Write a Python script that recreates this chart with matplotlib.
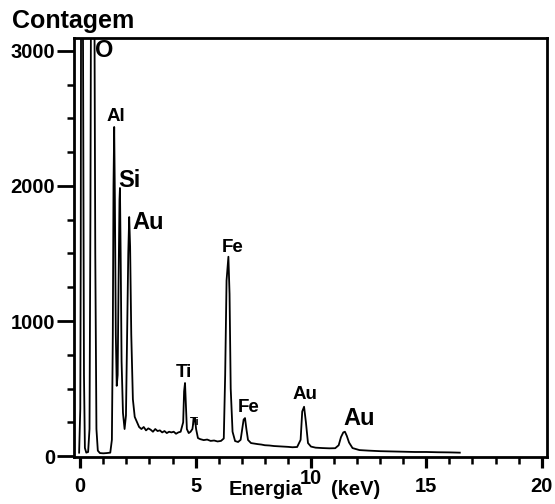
import matplotlib
matplotlib.use("Agg")
import matplotlib.pyplot as plt
from matplotlib.ticker import MultipleLocator

plt.rcParams["font.family"] = ["Liberation Sans", "DejaVu Sans"]
plt.rcParams["font.weight"] = "bold"

# EDS spectrum (energy in keV, counts)
energy = [
    -0.05, 0.00, 0.02, 0.04, 0.08, 0.12, 0.16, 0.20, 0.26, 0.34,
    0.40, 0.44, 0.48, 0.54, 0.60, 0.65, 0.70, 0.76, 0.85, 1.00,
    1.15, 1.30, 1.37, 1.41, 1.44, 1.47, 1.50, 1.54, 1.58, 1.62,
    1.66, 1.70, 1.72, 1.75, 1.79, 1.85, 1.92, 1.98, 2.03, 2.08,
    2.12, 2.16, 2.21, 2.28, 2.36, 2.46, 2.55, 2.65, 2.75, 2.85,
    2.95, 3.05, 3.15, 3.25, 3.35, 3.45, 3.55, 3.65, 3.75, 3.85,
    3.95, 4.05, 4.15, 4.25, 4.35, 4.46, 4.50, 4.54, 4.58, 4.62,
    4.70, 4.78, 4.86, 4.92, 4.97, 5.02, 5.10, 5.20, 5.35, 5.50,
    5.65, 5.80, 5.95, 6.10, 6.22, 6.28, 6.34, 6.42, 6.47, 6.52,
    6.60, 6.71, 6.84, 6.95, 7.02, 7.08, 7.14, 7.20, 7.27, 7.40,
    7.55, 7.70, 7.85, 8.00, 8.20, 8.40, 8.60, 8.80, 9.00, 9.20,
    9.40, 9.55, 9.62, 9.70, 9.78, 9.87, 10.00, 10.20, 10.50, 10.80,
    11.05, 11.20, 11.30, 11.40, 11.47, 11.55, 11.65, 11.80, 12.10, 12.50,
    13.00, 13.50, 14.00, 14.50, 15.00, 15.50, 16.00, 16.45,
]
counts = [
    25, 350, 1500, 4200, 4500, 3000, 600, 60, 25, 30,
    200, 1800, 4500, 5200, 4000, 1500, 200, 40, 22, 20,
    22, 25, 120, 900, 2000, 2437, 1900, 900, 520, 600,
    1300, 1900, 1985, 1500, 700, 320, 200, 300, 900, 1500,
    1770, 1550, 900, 420, 290, 250, 215, 200, 215, 190,
    205, 195, 180, 200, 185, 190, 175, 185, 170, 180,
    175, 180, 165, 175, 180, 250, 480, 541, 380, 200,
    170, 180, 200, 270, 281, 200, 133, 125, 118, 122,
    112, 115, 108, 112, 130, 600, 1300, 1476, 1200, 500,
    180, 111, 104, 120, 200, 270, 281, 200, 119, 96,
    92, 88, 85, 80, 78, 74, 72, 70, 68, 65,
    67, 120, 330, 365, 250, 96, 70, 62, 59, 57,
    58, 80, 140, 175, 180, 150, 100, 59, 44, 40,
    36, 34, 32, 30, 30, 28, 27, 25,
]

# peak labels: (text, energy, counts, size)
label_text = ["O", "Al", "Si", "Au", "Ti", "Ti", "Fe", "Fe", "Au", "Au"]
label_x = [1.03, 1.53, 2.11, 2.96, 4.50, 4.97, 6.62, 7.30, 9.76, 12.07]
label_y = [3000, 2511, 2044, 1733, 615, 254, 1541, 363, 459, 276]
label_size = [17, 13.5, 17, 17, 13.5, 8, 13.5, 13.5, 13.5, 17]

fig = plt.figure(figsize=(5.55, 5.04), dpi=100)
ax = fig.add_axes([0.1333, 0.0933, 0.8523, 0.8313])

ax.plot(energy, counts, color="black", linewidth=1.3)

for t, x, y, s in zip(label_text, label_x, label_y, label_size):
    ax.text(x, y, t, fontsize=s, fontweight="bold", ha="center", va="center")

ax.set_xlim(-0.273, 20.23)
ax.set_ylim(-7, 3096)

ax.xaxis.set_major_locator(MultipleLocator(5))
ax.xaxis.set_minor_locator(MultipleLocator(1))
ax.yaxis.set_major_locator(MultipleLocator(1000))
ax.yaxis.set_minor_locator(MultipleLocator(250))

ax.set_xticks([0, 5, 10, 15, 20])
ax.set_xticklabels(["0", "5", "", "15", "20"])

ax.tick_params(axis="x", which="major", direction="out", length=8, width=2.3,
               pad=6.5, labelsize=14.5)
ax.tick_params(axis="x", which="minor", direction="out", length=5, width=1.8)
ax.tick_params(axis="y", which="major", direction="out", length=12, width=2.0,
               pad=1.5, labelsize=14.5)
ax.tick_params(axis="y", which="minor", direction="out", length=5, width=1.8)
for lbl in ax.get_xticklabels() + ax.get_yticklabels():
    lbl.set_fontweight("bold")

for sp in ax.spines.values():
    sp.set_linewidth(2.0)

# "10" sits a bit higher than the other x labels, between the two halves of the axis title
ax.text(10, -0.0513, "10", transform=ax.get_xaxis_transform(), fontsize=14.5,
        fontweight="bold", ha="center", va="center")
fig.text(266 / 555, 1 - 495 / 504, "Energia", fontsize=14.5, fontweight="bold",
         ha="center", va="baseline")
fig.text(356 / 555, 1 - 495 / 504, "(keV)", fontsize=14.5, fontweight="bold",
         ha="center", va="baseline")
fig.text(12 / 555, 1 - 28 / 504, "Contagem", fontsize=18, fontweight="bold",
         ha="left", va="baseline")

fig.savefig("out.png", dpi=100)
